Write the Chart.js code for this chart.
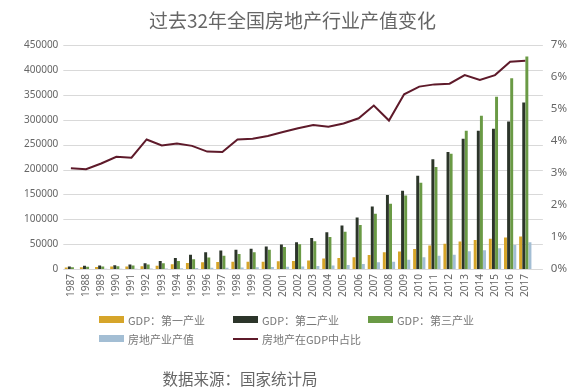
<!DOCTYPE html>
<html>
<head>
<meta charset="utf-8">
<script src="https://cdn.jsdelivr.net/npm/chart.js@4.4.1/dist/chart.umd.min.js"></script>
<style>
  body { margin: 0; background: #fff; }
  #wrap { position: relative; width: 585px; height: 388px; font-family: "Noto Sans CJK SC", sans-serif; overflow: hidden; }
  #chart { position: absolute; left: 0; top: 0; }
  #title { position: absolute; left: 0; top: 6px; width: 585px; text-align: center; font-size: 19px; line-height: 28px; color: #666; }
  #legend { position: absolute; left: 99px; top: 310px; display: grid; grid-template-columns: 134px 135px 134px; grid-auto-rows: 19px; font-size: 11px; color: #777; }
  #legend .item { display: flex; align-items: center; white-space: nowrap; }
  #legend .sw { width: 25px; height: 7px; margin-right: 4px; }
  #legend .ln { width: 25px; height: 2px; margin-right: 4px; }
  #source { position: absolute; left: 0; top: 367px; width: 480px; text-align: center; font-size: 15.5px; line-height: 22px; color: #666; }
</style>
</head>
<body>
<div id="wrap">
  <canvas id="chart" width="585" height="388"></canvas>
  <div id="title">过去32年全国房地产行业产值变化</div>
  <div id="legend"></div>
  <div id="source">数据来源：国家统计局</div>
</div>
<script>
// 年份
const years = ['1987','1988','1989','1990','1991','1992','1993','1994','1995','1996',
  '1997','1998','1999','2000','2001','2002','2003','2004','2005','2006',
  '2007','2008','2009','2010','2011','2012','2013','2014','2015','2016','2017'];

// GDP 分产业（亿元）
const primary = [3200, 3900, 4300, 5100, 5300, 5900, 7000, 9600, 12100, 14000,
  14400, 14800, 14800, 14900, 15800, 16500, 17400, 21400, 22400, 24000,
  28600, 33700, 35200, 40500, 47500, 50900, 55300, 58300, 60900, 63700, 65500];
const secondary = [5300, 6600, 7300, 7700, 9100, 11700, 16500, 22400, 28700, 33800,
  37500, 39000, 41000, 45600, 49500, 53900, 62400, 73900, 87600, 103700,
  125800, 149000, 157600, 187400, 220400, 235200, 262000, 277600, 282000, 296200, 334600];
const tertiary = [3600, 4600, 5400, 5900, 7300, 9400, 11900, 16200, 20000, 23300,
  27000, 30600, 33900, 38700, 44400, 49900, 56000, 64600, 74900, 88600,
  111400, 131300, 148000, 173600, 205200, 231400, 278000, 308100, 346200, 383400, 427000];
// 房地产业产值（亿元）
const realEstate = [400, 460, 560, 660, 760, 1100, 1400, 1900, 2400, 2600,
  2900, 3400, 3700, 4100, 4600, 5300, 6200, 7200, 8500, 10400,
  13800, 14700, 19000, 23600, 26800, 29000, 36000, 38000, 41700, 48200, 53900];
// 房地产在GDP中占比
const share = [0.0315, 0.0312, 0.0330, 0.0351, 0.0348, 0.0405, 0.0386, 0.0392, 0.0385, 0.0367,
  0.0366, 0.0405, 0.0407, 0.0416, 0.0428, 0.0440, 0.0450, 0.0445, 0.0455, 0.0471,
  0.0511, 0.0464, 0.0546, 0.0570, 0.0577, 0.0579, 0.0606, 0.0591, 0.0606, 0.0648, 0.0651];

const tickColor = '#666';
const tickFont = { family: 'Noto Sans', size: 10 };

// 横向网格线略微伸出绘图区右侧
const gridPlugin = {
  id: 'extGrid',
  beforeDatasetsDraw(chart) {
    const { ctx, chartArea, scales } = chart;
    ctx.save();
    ctx.strokeStyle = '#d9d9d9';
    ctx.lineWidth = 1;
    scales.y.ticks.forEach((t) => {
      const py = Math.round(scales.y.getPixelForValue(t.value)) + 0.5;
      ctx.beginPath();
      ctx.moveTo(chartArea.left, py);
      ctx.lineTo(chartArea.right + 10, py);
      ctx.stroke();
    });
    ctx.restore();
  }
};

const chart = new Chart(document.getElementById('chart'), {
  data: {
    labels: years,
    datasets: [
      { type: 'bar', label: 'GDP：第一产业', data: primary, backgroundColor: '#D6A52A', yAxisID: 'y', order: 1 },
      { type: 'bar', label: 'GDP：第二产业', data: secondary, backgroundColor: '#2C352A', yAxisID: 'y', order: 1 },
      { type: 'bar', label: 'GDP：第三产业', data: tertiary, backgroundColor: '#6A9A45', yAxisID: 'y', order: 1 },
      { type: 'bar', label: '房地产业产值', data: realEstate, backgroundColor: '#A3BED4', yAxisID: 'y', order: 1 },
      { type: 'line', label: '房地产在GDP中占比', data: share, borderColor: '#5E1A2A', borderWidth: 2,
        pointRadius: 0, tension: 0, fill: false, yAxisID: 'y1', order: 0 }
    ]
  },
  options: {
    responsive: false,
    animation: false,
    layout: { padding: { left: 19, right: 0, top: 45, bottom: 86 } },
    datasets: { bar: { categoryPercentage: 0.82, barPercentage: 0.95 } },
    plugins: { legend: { display: false }, title: { display: false }, tooltip: { enabled: false } },
    scales: {
      x: {
        grid: { display: false, drawTicks: false },
        border: { display: false },
        ticks: { color: tickColor, font: tickFont, minRotation: 90, maxRotation: 90, padding: 5, autoSkip: false }
      },
      y: {
        position: 'left',
        min: 0, max: 450000,
        grid: { display: false, drawTicks: false },
        border: { display: false },
        ticks: { stepSize: 50000, color: tickColor, font: tickFont, padding: 5, callback: (v) => String(v) }
      },
      y1: {
        position: 'right',
        min: 0, max: 0.07,
        grid: { display: false, drawTicks: false },
        border: { display: false },
        ticks: { stepSize: 0.01, color: tickColor, font: { family: 'Noto Sans', size: 11.5 }, padding: 18,
          callback: (v) => Math.round(v * 100) + '%' }
      }
    }
  },
  plugins: [gridPlugin]
});

// 图例：三列两行
const legend = document.getElementById('legend');
chart.data.datasets.forEach((ds, i) => {
  const item = document.createElement('div');
  item.className = 'item';
  if (i === 3) item.style.gridColumn = '1';
  const sw = document.createElement('span');
  if (ds.type === 'line') {
    sw.className = 'ln';
    sw.style.background = ds.borderColor;
  } else {
    sw.className = 'sw';
    sw.style.background = ds.backgroundColor;
  }
  item.appendChild(sw);
  item.appendChild(document.createTextNode(ds.label));
  legend.appendChild(item);
});
</script>
</body>
</html>
